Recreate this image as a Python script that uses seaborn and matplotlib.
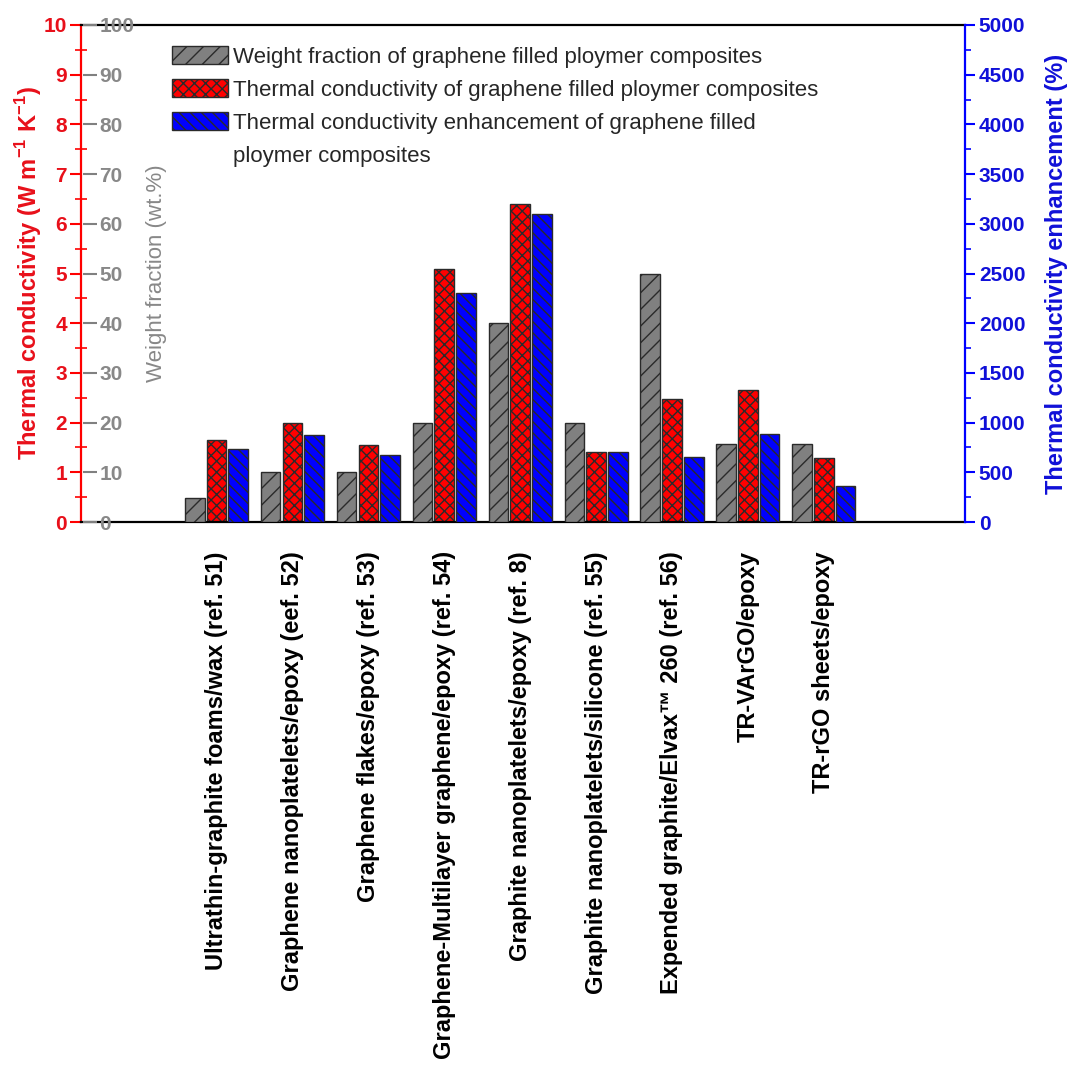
import matplotlib
matplotlib.use("Agg")
import matplotlib.pyplot as plt
from matplotlib.patches import Patch
from matplotlib.ticker import MultipleLocator
import numpy as np
import pandas as pd
import seaborn as sns

# ---- data -------------------------------------------------------------
categories = [
    "Ultrathin-graphite foams/wax (ref. 51)",
    "Graphene nanoplatelets/epoxy (eef. 52)",
    "Graphene flakes/epoxy (ref. 53)",
    "Graphene-Multilayer graphene/epoxy (ref. 54)",
    "Graphite nanoplatelets/epoxy (ref. 8)",
    "Graphite nanoplatelets/silicone (ref. 55)",
    "Expended graphite/Elvax\u2122 260 (ref. 56)",
    "TR-VArGO/epoxy",
    "TR-rGO sheets/epoxy",
]
weight_fraction = [4.8, 10, 10, 20, 40, 20, 50, 15.7, 15.7]          # wt.%
thermal_conductivity = [1.65, 2.0, 1.54, 5.1, 6.4, 1.4, 2.48, 2.66, 1.28]  # W m-1 K-1
enhancement = [730, 880, 670, 2300, 3100, 700, 650, 890, 360]       # %

series_names = [
    "Weight fraction of graphene filled ploymer composites",
    "Thermal conductivity of graphene filled ploymer composites",
    "Thermal conductivity enhancement of graphene filled",
]
legend_extra_line = "ploymer composites"

# ---- style ------------------------------------------------------------
sns.set_style("white")
plt.rcParams["font.family"] = ["Liberation Sans", "DejaVu Sans"]
plt.rcParams["font.weight"] = "bold"
plt.rcParams["axes.labelweight"] = "bold"
plt.rcParams["mathtext.fontset"] = "custom"
plt.rcParams["mathtext.rm"] = "Liberation Sans"
plt.rcParams["mathtext.bf"] = "Liberation Sans:bold"
plt.rcParams["hatch.linewidth"] = 1.0

RED = "#ff0000"
BLUE = "#0000ff"
GRAY = "#808080"
RED_TXT = "#e8101a"
BLUE_TXT = "#1010d8"
GRAY_TXT = "#888888"
EDGE = "#2a2a2a"

W, H = 1070, 1084
fig = plt.figure(figsize=(W / 100, H / 100), dpi=100)
left, right, top, bottom = 81, 965, 25, 522
ax = fig.add_axes([left / W, 1 - bottom / H, (right - left) / W, (bottom - top) / H])
ax_g = ax.twinx()
ax_b = ax.twinx()

palette = {series_names[0]: GRAY, series_names[1]: RED, series_names[2]: BLUE}
hatches = {series_names[0]: "//", series_names[1]: "xxx", series_names[2]: "\\\\\\"}
layers = [
    (ax_g, series_names[0], weight_fraction),
    (ax, series_names[1], thermal_conductivity),
    (ax_b, series_names[2], enhancement),
]
for axis, name, vals in layers:
    df = pd.DataFrame({"material": categories, "value": vals, "series": name})
    sns.barplot(
        data=df, x="material", y="value", hue="series",
        hue_order=series_names, order=categories, palette=palette,
        width=0.86, gap=0.1, dodge=True, errorbar=None, legend=False,
        saturation=1, edgecolor=EDGE, linewidth=1.0, ax=axis,
    )
    for p in axis.patches:
        p.set_hatch(hatches[name])
    axis.set_xlabel("")
    axis.set_ylabel("")

# ---- x axis -----------------------------------------------------------
ax.set_xlim(-1.785, 9.86)
ax.set_xticks(range(len(categories)))
ax.set_xticklabels(categories, rotation=90, fontsize=17, fontweight="bold")
ax.set_xticks(np.arange(-0.5, len(categories), 1.0), minor=True)
ax.tick_params(axis="x", which="major", length=0, pad=21, labelcolor="black")
ax.tick_params(axis="x", which="minor", direction="inout", length=36,
               width=2.8, color="black")

# ---- left (red) axis: thermal conductivity ------------------------------
ax.set_ylim(0, 10)
ax.yaxis.set_major_locator(MultipleLocator(1))
ax.yaxis.set_minor_locator(MultipleLocator(0.5))
ax.tick_params(axis="y", which="major", direction="out", length=8, width=1.5,
               color=RED, labelcolor=RED_TXT, labelsize=15, pad=2)
ax.tick_params(axis="y", which="minor", direction="inout", length=8,
               width=1.2, color=RED)
ax.set_ylabel("Thermal conductivity (W m$^{\\mathbf{-1}}$ K$^{\\mathbf{-1}}$)",
              color=RED_TXT, fontsize=17, fontweight="bold", labelpad=0)
ax.spines["left"].set_color(RED)
ax.spines["left"].set_linewidth(1.6)
for s in ("top", "bottom"):
    ax.spines[s].set_color("black")
    ax.spines[s].set_linewidth(1.6)
ax.spines["right"].set_visible(False)

# ---- inner (gray) axis: weight fraction -------------------------------
ax_g.set_ylim(0, 100)
ax_g.yaxis.set_major_locator(MultipleLocator(10))
ax_g.spines["right"].set_position(("axes", 0.002))
for s in ax_g.spines.values():
    s.set_visible(False)
ax_g.tick_params(axis="y", which="major", direction="out", length=10,
                 width=1.5, color=GRAY, labelcolor=GRAY_TXT, labelsize=15, pad=2)
ax_g.set_ylabel("Weight fraction (wt.%)", color=GRAY_TXT, fontsize=16,
                fontweight="normal", labelpad=8)

# ---- right (blue) axis: enhancement -----------------------------------
ax_b.set_ylim(0, 5000)
ax_b.yaxis.set_major_locator(MultipleLocator(500))
ax_b.yaxis.set_minor_locator(MultipleLocator(250))
for s in ("left", "top", "bottom"):
    ax_b.spines[s].set_visible(False)
ax_b.spines["right"].set_color(BLUE)
ax_b.spines["right"].set_linewidth(1.6)
ax_b.tick_params(axis="y", which="major", direction="out", length=7,
                 width=1.5, color=BLUE, labelcolor=BLUE_TXT, labelsize=15, pad=3)
ax_b.tick_params(axis="y", which="minor", direction="out", length=4,
                 width=1.2, color=BLUE)
ax_b.set_ylabel("Thermal conductivity enhancement (%)", color=BLUE_TXT,
                fontsize=17, fontweight="bold", labelpad=14)

# ---- legend -----------------------------------------------------------
handles = [Patch(facecolor=palette[n], edgecolor=EDGE, hatch=hatches[n], linewidth=1.0)
           for n in series_names]
handles.append(Patch(facecolor="none", edgecolor="none"))
labels = series_names + [legend_extra_line]
ax_b.legend(handles, labels, loc="upper left",
            bbox_to_anchor=(172 / W, 1 - 46 / H), bbox_transform=fig.transFigure,
            frameon=False, borderpad=0, borderaxespad=0,
            prop={"family": "Liberation Sans", "weight": "normal", "size": 16},
            handlelength=2.5, handleheight=0.9, handletextpad=0.25,
            labelspacing=0.5)

fig.savefig("out.png", dpi=100)
